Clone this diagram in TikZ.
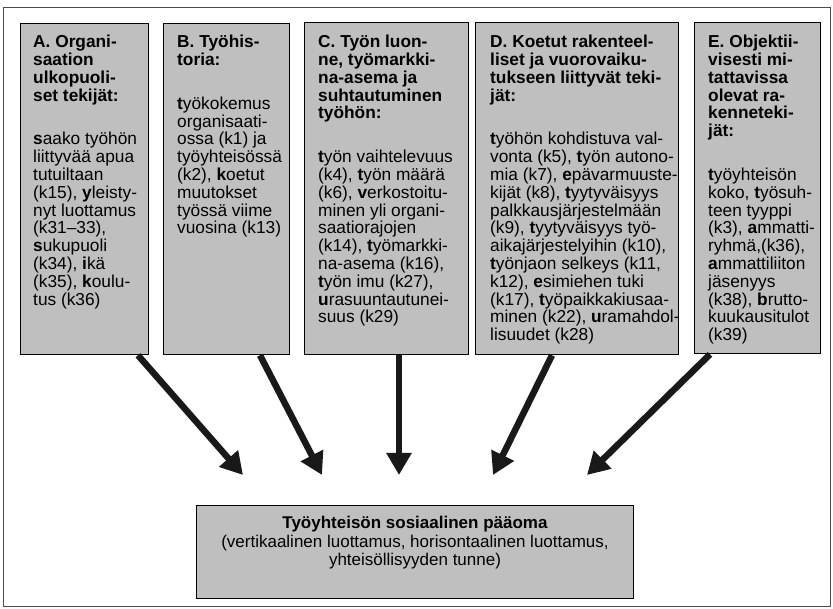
\documentclass[tikz,border=0pt]{standalone}
\usepackage{fontspec}
\setmainfont{Liberation Sans}
\usetikzlibrary{arrows.meta,calc}
\tikzset{
  box/.style={draw=black, line width=1.3pt, fill=black!25, anchor=north west, inner sep=0pt},
  txt/.style={anchor=north west, align=left, inner sep=0pt, font=\fontsize{17.3}{17.8}\selectfont},
  arr/.style={line width=6.5pt, -{Triangle[length=22pt,width=24pt]}, black!90},
}
\newcommand{\gapline}{\\[26pt]}
\begin{document}
\begin{tikzpicture}[x=1pt,y=-1pt]
\useasboundingbox (0,0) rectangle (833,609);
\node[draw=black!70, line width=0.8pt, anchor=north west, minimum width=827pt, minimum height=599pt, inner sep=0pt] (frame) at (3,7) {};
% boxes
\node[box, minimum width=128pt, minimum height=331pt] (A) at (20,23) {};
\node[box, minimum width=126pt, minimum height=331pt] (B) at (163,23) {};
\node[box, minimum width=164pt, minimum height=332pt] (C) at (304,22) {};
\node[box, minimum width=203pt, minimum height=332pt] (D) at (475,22) {};
\node[box, minimum width=126pt, minimum height=331pt] (E) at (694,22) {};
\node[box, minimum width=437pt, minimum height=93pt] (S) at (196,505) {};
% texts
\node[txt] (At) at (33,35) {\textbf{A. Organi-}\\\textbf{saation}\\\textbf{ulkopuoli-}\\\textbf{set tekijät:}\gapline
\textbf{s}aako työhön\\liittyvää apua\\tutuiltaan\\(k15), \textbf{y}leisty-\\nyt luottamus\\(k31–33),\\\textbf{s}ukupuoli\\(k34), \textbf{i}kä\\(k35), \textbf{k}oulu-\\tus (k36)};
\node[txt] (Bt) at (177,35) {\textbf{B. Työhis-}\\\textbf{toria:}\gapline
\textbf{t}yökokemus\\organisaati-\\ossa (k1) ja\\työyhteisössä\\(k2), \textbf{k}oetut\\muutokset\\työssä viime\\vuosina (k13)};
\node[txt] (Ct) at (318,35) {\textbf{C. Työn luon-}\\\textbf{ne, työmarkki-}\\\textbf{na-asema ja}\\\textbf{suhtautuminen}\\\textbf{työhön:}\gapline
\textbf{t}yön vaihtelevuus\\(k4), \textbf{t}yön määrä\\(k6), \textbf{v}erkostoitu-\\minen yli organi-\\saatiorajojen\\(k14), \textbf{t}yömarkki-\\na-asema (k16),\\\textbf{t}yön imu (k27),\\\textbf{u}rasuuntautunei-\\suus (k29)};
\node[txt] (Dt) at (490,35) {\textbf{D. Koetut rakenteel-}\\\textbf{liset ja vuorovaiku-}\\\textbf{tukseen liittyvät teki-}\\\textbf{jät:}\gapline
\textbf{t}yöhön kohdistuva val-\\vonta (k5), \textbf{t}yön autono-\\mia (k7), \textbf{e}pävarmuuste-\\kijät (k8), \textbf{t}yytyväisyys\\palkkausjärjestelmään\\(k9), \textbf{t}yytyväisyys työ-\\aikajärjestelyihin (k10),\\\textbf{t}yönjaon selkeys (k11,\\k12), \textbf{e}simiehen tuki\\(k17), \textbf{t}yöpaikkakiusaa-\\minen (k22), \textbf{u}ramahdol-\\lisuudet (k28)};
\node[txt] (Et) at (708,35) {\textbf{E. Objektii-}\\\textbf{visesti mi-}\\\textbf{tattavissa}\\\textbf{olevat ra-}\\\textbf{kenneteki-}\\\textbf{jät:}\gapline
\textbf{t}yöyhteisön\\koko, \textbf{t}yösuh-\\teen tyyppi\\(k3), \textbf{a}mmatti-\\ryhmä,(k36),\\\textbf{a}mmattiliiton\\jäsenyys\\(k38), \textbf{b}rutto-\\kuukausitulot\\(k39)};
\node[anchor=north, align=center, inner sep=0pt, font=\fontsize{17}{18.5}\selectfont] (St) at (415,516)
 {\textbf{Työyhteisön sosiaalinen pääoma}\\(vertikaalinen luottamus, horisontaalinen luottamus,\\yhteisöllisyyden tunne)};
% arrows
\coordinate (a1) at ($(A.south west)+(118,0)$);
\coordinate (b1) at ($(B.south west)+(97,0)$);
\coordinate (c1) at ($(C.south west)+(95,0)$);
\coordinate (d1) at ($(D.south west)+(77,0)$);
\coordinate (e1) at ($(E.south west)+(16,0)$);
\coordinate (a2) at ($(S.north west)+(47,-30)$);
\coordinate (b2) at ($(S.north west)+(126,-30)$);
\coordinate (c2) at ($(S.north west)+(203,-30)$);
\coordinate (d2) at ($(S.north west)+(297,-30)$);
\coordinate (e2) at ($(S.north west)+(391,-30)$);
\draw[arr] (a1) -- (a2);
\draw[arr] (b1) -- (b2);
\draw[arr] (c1) -- (c2);
\draw[arr] (d1) -- (d2);
\draw[arr] (e1) -- (e2);
\end{tikzpicture}
\end{document}
